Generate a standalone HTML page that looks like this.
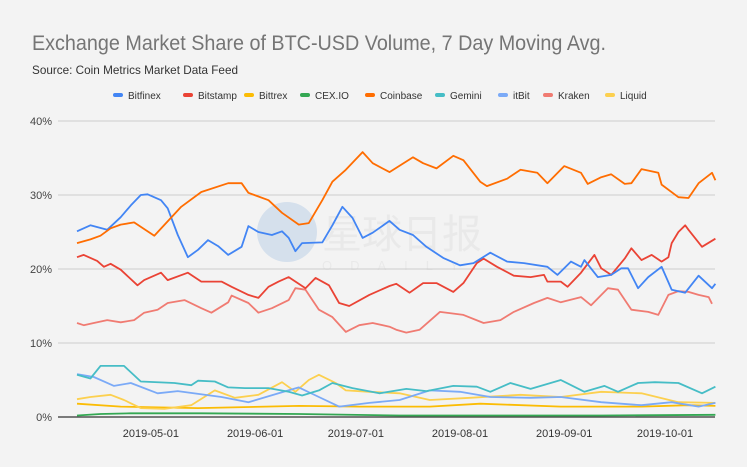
<!DOCTYPE html>
<html><head><meta charset="utf-8">
<style>
body{margin:0;background:#f3f3f3;}
svg{display:block;font-family:"Liberation Sans",Arial,sans-serif;}
</style></head>
<body>
<svg id="chart" width="747" height="467" viewBox="0 0 747 467">
<rect x="0" y="0" width="747" height="467" fill="#f3f3f3"/>
<text x="32" y="50" font-size="21" fill="#757575" textLength="574" lengthAdjust="spacingAndGlyphs">Exchange Market Share of BTC-USD Volume, 7 Day Moving Avg.</text>
<text x="32" y="74" font-size="12" fill="#333" textLength="206" lengthAdjust="spacingAndGlyphs">Source: Coin Metrics Market Data Feed</text>
<g id="watermark" opacity="0.4">
<circle cx="287" cy="232" r="30" fill="#a9c4e4"/>
<text x="322" y="248" font-size="40" fill="#dcdcdc" font-family="'Noto Sans CJK SC',sans-serif">星球日报</text>
<text x="322" y="270" font-size="13" fill="#dcdcdc" letter-spacing="18">ODAILY</text>
</g>
<g id="grid"></g>
<g id="lines"></g>
<g id="legend"></g>
<g id="xaxis"></g>
</svg>
<script>
const NS='http://www.w3.org/2000/svg';
const startDate=Date.UTC(2019,3,9);
const yTicks=[0,10,20,30,40];
const xTickLabels=['2019-05-01','2019-06-01','2019-07-01','2019-08-01','2019-09-01','2019-10-01'];
const seriesNames=['Bitfinex','Bitstamp','Bittrex','CEX.IO','Coinbase','Gemini','itBit','Kraken','Liquid'];
const seriesColors=['#4285f4','#ea4335','#fbbc04','#34a853','#ff6d01','#46bdc6','#7baaf7','#f07b72','#fcd04f'];
const bitfinexDays=[0,4,9,13,16,19,21,25,27,30,33,36,39,42,45,49,51,54,58,61,63,65,67,73,76,79,82,85,88,93,96,100,104,109,114,118,123,128,133,140,143,147,150,151,155,159,162,164,167,170,174,177,181,185,189,190];
const bitfinexVals=[25.1,25.9,25.3,27,28.6,30,30.1,29.3,28.2,24.6,21.6,22.6,23.9,23.1,21.9,23,25.8,25,24.6,25.1,24.2,22.4,23.5,23.6,25.9,28.4,26.9,24.2,24.9,26.5,25.3,24.6,23,21.5,20.5,20.8,22.2,21,20.8,20.3,19.2,21,20.3,21.2,18.9,19.2,20.1,20.1,17.4,18.9,20.3,17.2,16.8,19.1,17.4,18];
const bitstampDays=[0,2,6,8,10,13,18,20,25,27,33,37,43,46,51,54,57,60,63,68,71,75,78,81,87,93,95,99,103,107,112,115,119,121,125,130,135,139,140,144,146,150,154,156,159,163,165,168,171,174,176,177,179,181,182,186,190];
const bitstampVals=[21.6,21.9,21.1,20.3,20.7,19.9,17.8,18.5,19.5,18.5,19.5,18.3,18.3,17.6,16.5,16.1,17.6,18.3,18.9,17.4,18.8,17.8,15.4,15,16.5,17.7,18,16.8,18.1,18.1,16.9,18.1,20.8,21.4,20.3,19.1,18.9,19.2,18.3,18.3,17.6,19.5,21.9,20.1,19.2,21.4,22.8,21.2,21.9,21,21.6,23.5,25,25.9,25.3,23,24.1];
const bittrexDays=[0,13,36,66,84,105,120,144,168,182,190];
const bittrexVals=[1.8,1.4,1.2,1.5,1.4,1.4,1.8,1.4,1.4,1.6,1.5];
const cexioDays=[0,7,16,37,66,96,126,156,190];
const cexioVals=[0.2,0.4,0.5,0.5,0.4,0.2,0.2,0.2,0.3];
const coinbaseDays=[0,4,7,10,13,17,23,31,37,45,49,51,57,61,66,69,73,76,80,85,88,93,100,103,107,112,115,120,122,128,132,137,140,145,150,152,156,159,163,165,168,173,174,179,182,185,189,190];
const coinbaseVals=[23.5,24,24.5,25.5,26,26.3,24.5,28.4,30.4,31.6,31.6,30.3,29.3,27.6,26,26.2,29.3,31.8,33.4,35.8,34.3,33.1,35.1,34.3,33.6,35.3,34.7,31.8,31.2,32.2,33.4,33,31.6,33.9,33,31.5,32.4,32.8,31.5,31.6,33.5,33,31.4,29.7,29.6,31.6,33,32];
const geminiDays=[0,4,7,11,14,19,29,34,36,41,45,50,57,63,67,72,76,82,90,98,104,112,119,123,129,135,144,151,157,161,167,172,179,186,190];
const geminiVals=[5.7,5.2,6.9,6.9,6.9,4.8,4.6,4.3,4.9,4.8,4.0,3.9,3.9,3.4,2.9,3.6,4.6,3.9,3.2,3.8,3.5,4.2,4.1,3.4,4.6,3.8,5.0,3.4,4.2,3.4,4.6,4.7,4.6,3.2,4.1];
const itbitDays=[0,5,11,16,24,30,43,51,60,66,72,78,87,96,105,114,123,135,144,156,168,177,185,190];
const itbitVals=[5.8,5.4,4.2,4.6,3.2,3.5,2.7,2.0,3.2,4.0,2.7,1.4,1.9,2.3,3.6,3.4,2.7,2.6,2.7,2.0,1.6,2.0,1.4,1.9];
const krakenDays=[0,2,5,9,13,17,20,24,27,32,37,40,45,46,51,54,58,63,65,68,72,76,80,84,88,93,95,98,102,108,115,121,126,130,136,140,144,150,153,158,161,165,170,173,176,179,182,185,188,189];
const krakenVals=[12.7,12.4,12.7,13.1,12.8,13.1,14.1,14.5,15.4,15.8,14.7,14.1,15.5,16.4,15.4,14.1,14.7,15.8,17.4,17.2,14.5,13.5,11.5,12.4,12.7,12.2,11.8,11.4,11.8,14.2,13.8,12.7,13.1,14.2,15.4,16.1,15.5,16.2,15.1,17.4,17.2,14.5,14.2,13.8,16.5,17,16.9,16.5,16.2,15.3];
const liquidDays=[0,4,10,14,19,26,34,41,47,54,61,65,69,72,77,80,87,96,105,117,132,144,156,168,179,190];
const liquidVals=[2.4,2.7,3.0,2.3,1.2,1.1,1.6,3.6,2.6,3.0,4.7,3.4,5.0,5.7,4.6,3.6,3.4,3.2,2.3,2.6,3.0,2.7,3.4,3.2,2.0,1.9];
const seriesDays=[bitfinexDays,bitstampDays,bittrexDays,cexioDays,coinbaseDays,geminiDays,itbitDays,krakenDays,liquidDays];
const seriesVals=[bitfinexVals,bitstampVals,bittrexVals,cexioVals,coinbaseVals,geminiVals,itbitVals,krakenVals,liquidVals];
const drawOrder=[3,2,8,6,5,7,1,0,4];

const X0=77,PXD=3.36,Y0=417,PXP=7.4,XL=58,XR=715;
function xScale(day){return X0+day*PXD;}
function yScale(v){return Y0-v*PXP;}
function dayOf(s){const p=s.split('-');return (Date.UTC(+p[0],+p[1]-1,+p[2])-startDate)/86400000;}

const grid=document.getElementById('grid');
yTicks.forEach(t=>{
  const l=document.createElementNS(NS,'line');
  
  
  l.setAttribute('x1',XL);l.setAttribute('x2',XR);
  l.setAttribute('y1',yScale(t));l.setAttribute('y2',yScale(t));
  l.setAttribute('stroke',t===0?'#333':'#cccccc');
  l.setAttribute('stroke-width',t===0?1.2:1);
  grid.appendChild(l);
  const tx=document.createElementNS(NS,'text');
  
  
  tx.setAttribute('x',52);tx.setAttribute('y',yScale(t)+4);
  tx.setAttribute('text-anchor','end');tx.setAttribute('font-size','11');tx.setAttribute('fill','#444');
  tx.textContent=t+'%';
  grid.appendChild(tx);
});
const xa=document.getElementById('xaxis');
xTickLabels.forEach(s=>{
  const tx=document.createElementNS(NS,'text');
  
  
  tx.setAttribute('x',xScale(dayOf(s)));tx.setAttribute('y',437);
  tx.setAttribute('text-anchor','middle');tx.setAttribute('font-size','11');tx.setAttribute('fill','#333');
  tx.textContent=s;
  xa.appendChild(tx);
});
const lines=document.getElementById('lines');
drawOrder.forEach(i=>{
  const d=seriesDays[i].map((dd,j)=>(j?'L':'M')+xScale(dd).toFixed(1)+','+yScale(seriesVals[i][j]).toFixed(1)).join(' ');
  const p=document.createElementNS(NS,'path');
  
  
  p.setAttribute('d',d);p.setAttribute('fill','none');
  p.setAttribute('stroke',seriesColors[i]);p.setAttribute('stroke-width','1.8');
  p.setAttribute('stroke-linejoin','round');
  lines.appendChild(p);
});
const legendX=[113,183,244,300,365,435,498,543,605];
const lg=document.getElementById('legend');
seriesNames.forEach((n,i)=>{
  const g=document.createElementNS(NS,'g');
  
  
  const r=document.createElementNS(NS,'rect');
  
  
  r.setAttribute('x',legendX[i]);r.setAttribute('y',93);r.setAttribute('width',10);r.setAttribute('height',4);r.setAttribute('rx',2);
  r.setAttribute('fill',seriesColors[i]);
  g.appendChild(r);
  const t=document.createElementNS(NS,'text');
  
  
  t.setAttribute('x',legendX[i]+15);t.setAttribute('y',99);t.setAttribute('font-size','10');t.setAttribute('fill','#333');
  t.textContent=n;
  g.appendChild(t);
  lg.appendChild(g);
});
</script>
</body></html>
